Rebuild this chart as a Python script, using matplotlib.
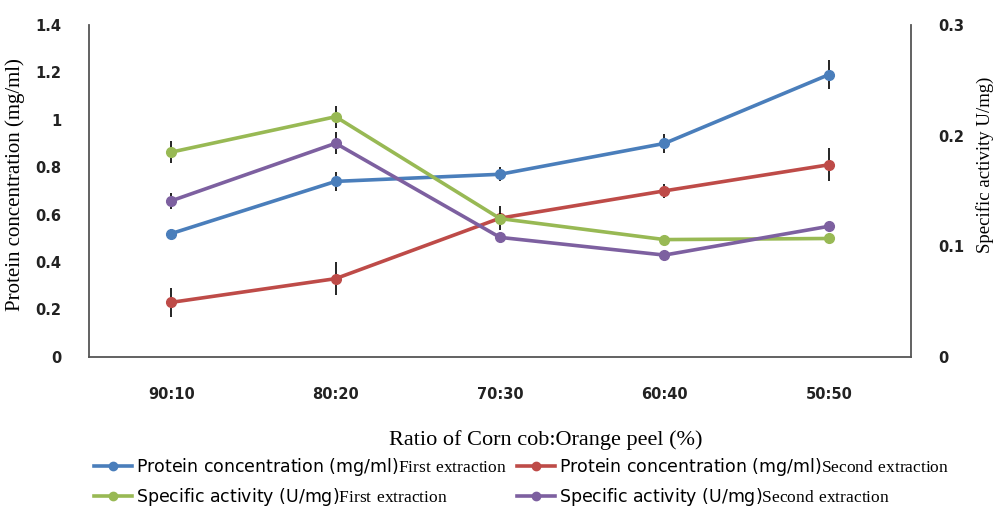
import matplotlib
matplotlib.use("Agg")
import matplotlib.pyplot as plt
import numpy as np
from matplotlib.lines import Line2D

plt.rcParams['mathtext.fontset'] = 'custom'
plt.rcParams['mathtext.rm'] = 'Liberation Serif'

categories = ["90:10", "80:20", "70:30", "60:40", "50:50"]
protein_first = [0.52, 0.74, 0.77, 0.90, 1.19]
protein_first_err = [0.02, 0.04, 0.03, 0.04, 0.06]
protein_second = [0.23, 0.33, 0.585, 0.70, 0.81]
protein_second_err = [0.06, 0.07, 0.05, 0.03, 0.07]
activity_first = [0.185, 0.217, 0.125, 0.106, 0.107]
activity_first_err = [0.01, 0.01, 0.005, 0.0, 0.004]
activity_second = [0.141, 0.193, 0.108, 0.092, 0.118]
activity_second_err = [0.007, 0.01, 0.0, 0.0, 0.004]

c_blue = "#4A7EBB"
c_red = "#BE4B48"
c_green = "#98B954"
c_purple = "#7D60A0"

fig = plt.figure(figsize=(9.97, 5.07), dpi=100)
ax = fig.add_axes([0.0893, 0.296, 0.8244, 0.655])
ax2 = ax.twinx()

x = np.arange(len(categories))
lw = 2.6
ms = 7
ekw = dict(ecolor="black", elinewidth=1.2, capsize=0)

ax.errorbar(x, protein_first, yerr=protein_first_err, color=c_blue, lw=lw,
            marker="o", ms=ms, **ekw, zorder=3)
ax.errorbar(x, protein_second, yerr=protein_second_err, color=c_red, lw=lw,
            marker="o", ms=ms, **ekw, zorder=3)
ax2.errorbar(x, activity_first, yerr=activity_first_err, color=c_green, lw=lw,
             marker="o", ms=ms, **ekw, zorder=3)
ax2.errorbar(x, activity_second, yerr=activity_second_err, color=c_purple, lw=lw,
             marker="o", ms=ms, **ekw, zorder=3)

ax.set_xlim(-0.5, 4.5)
ax.set_ylim(0, 1.4)
ax2.set_ylim(0, 0.3)
ax.set_yticks([0, 0.2, 0.4, 0.6, 0.8, 1, 1.2, 1.4])
ax.set_yticklabels(["0", "0.2", "0.4", "0.6", "0.8", "1", "1.2", "1.4"])
ax2.set_yticks([0, 0.1, 0.2, 0.3])
ax2.set_yticklabels(["0", "0.1", "0.2", "0.3"])
ax.set_xticks(x)
ax.set_xticklabels(categories)

for a in (ax, ax2):
    a.spines['top'].set_visible(False)
    for s in ('left', 'right', 'bottom'):
        a.spines[s].set_color("#555555")
        a.spines[s].set_linewidth(1.3)
ax.spines['right'].set_visible(False)
ax2.spines['left'].set_visible(False)
ax2.spines['bottom'].set_visible(False)

ax.tick_params(axis='y', length=0, pad=20, labelsize=10.5, labelcolor="#222222")
ax.tick_params(axis='x', length=0, pad=22, labelsize=10.5, labelcolor="#222222")
ax2.tick_params(axis='y', length=0, pad=20, labelsize=10.5, labelcolor="#222222")
for lab in ax.get_yticklabels() + ax.get_xticklabels() + ax2.get_yticklabels():
    lab.set_fontweight("bold")

ax.set_ylabel("Protein concentration (mg/ml)", family="Liberation Serif", fontsize=15)
ax.yaxis.set_label_coords(-0.078, 0.52)
ax2.set_ylabel("Specific activity U/mg)", family="Liberation Serif", fontsize=13.5)
ax2.yaxis.set_label_coords(1.079, 0.58)

fig.text(0.547, 0.132, "Ratio of Corn cob:Orange peel (%)", family="Liberation Serif",
         fontsize=16, ha="center", va="center")

labels = [
    r"Protein concentration (mg/ml)$\mathrm{First\ extraction}$",
    r"Specific activity (U/mg)$\mathrm{First\ extraction}$",
    r"Protein concentration (mg/ml)$\mathrm{Second\ extraction}$",
    r"Specific activity (U/mg)$\mathrm{Second\ extraction}$",
]
colors = [c_blue, c_green, c_red, c_purple]
handles = [Line2D([], [], color=c, lw=lw, marker="o", ms=6) for c in colors]
fig.legend(handles, labels, ncol=2, loc="center", bbox_to_anchor=(0.523, 0.049),
           frameon=False, fontsize=12.5, handlelength=2.2, handletextpad=0.2,
           columnspacing=0.6, labelspacing=0.45, borderpad=0.0)

fig.savefig("out.png", dpi=100)
